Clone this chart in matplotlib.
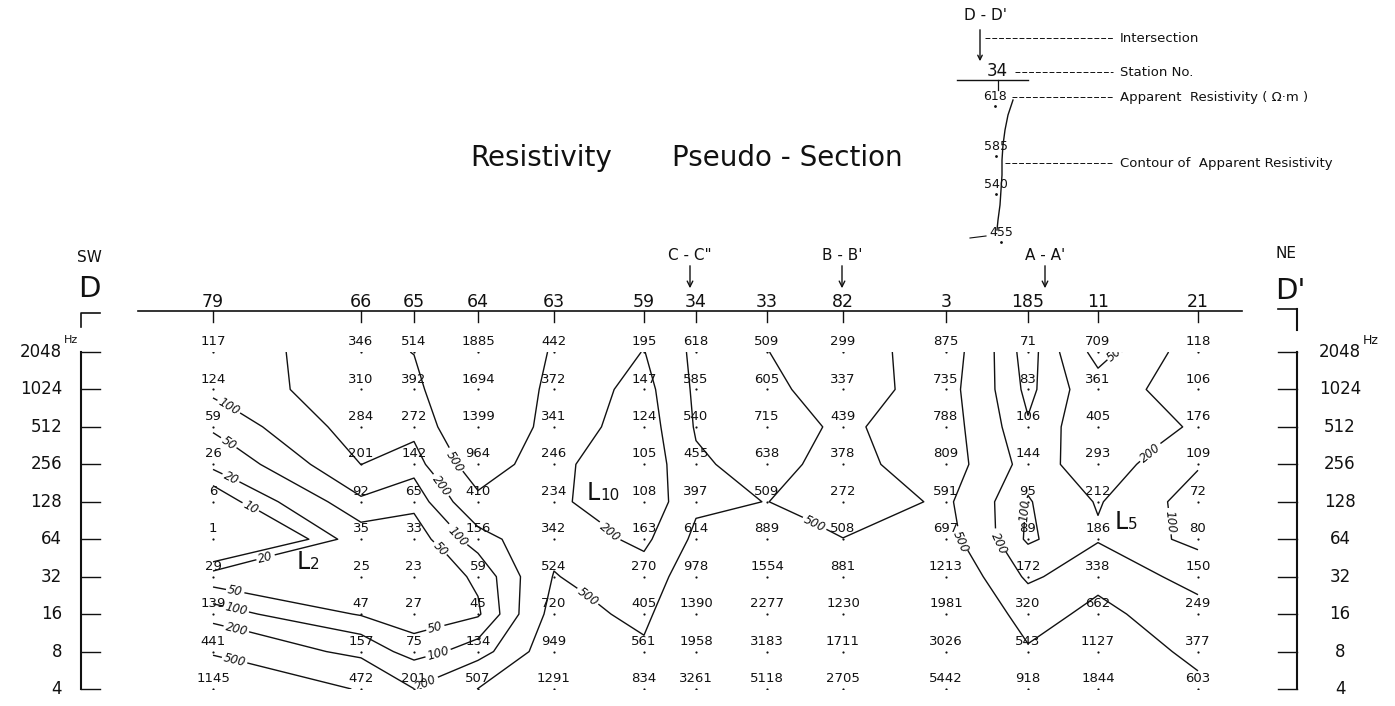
import numpy as np
import matplotlib
matplotlib.use('Agg')
import matplotlib.pyplot as plt
from matplotlib import transforms

# ---------------- data ----------------
stations = ['79', '66', '65', '64', '63', '59', '34', '33', '82', '3', '185', '11', '21']
station_dist = [21.3, 36.1, 41.4, 47.8, 55.4, 64.4, 69.6, 76.7, 84.3, 94.6, 102.8, 109.8, 119.8]
freqs = [2048, 1024, 512, 256, 128, 64, 32, 16, 8, 4]

rho_2048 = [117, 346, 514, 1885, 442, 195, 618, 509, 299, 875, 71, 709, 118]
rho_1024 = [124, 310, 392, 1694, 372, 147, 585, 605, 337, 735, 83, 361, 106]
rho_512 = [59, 284, 272, 1399, 341, 124, 540, 715, 439, 788, 106, 405, 176]
rho_256 = [26, 201, 142, 964, 246, 105, 455, 638, 378, 809, 144, 293, 109]
rho_128 = [6, 92, 65, 410, 234, 108, 397, 509, 272, 591, 95, 212, 72]
rho_64 = [1, 35, 33, 156, 342, 163, 614, 889, 508, 697, 89, 186, 80]
rho_32 = [29, 25, 23, 59, 524, 270, 978, 1554, 881, 1213, 172, 338, 150]
rho_16 = [139, 47, 27, 45, 720, 405, 1390, 2277, 1230, 1981, 320, 662, 249]
rho_8 = [441, 157, 75, 134, 949, 561, 1958, 3183, 1711, 3026, 543, 1127, 377]
rho_4 = [1145, 472, 201, 507, 1291, 834, 3261, 5118, 2705, 5442, 918, 1844, 603]

contour_levels = [10, 20, 50, 100, 200, 500]

intersection_names = ['C - C"', "B - B'", "A - A'"]
intersection_dist = [69.0, 84.2, 104.5]

anomaly_names = [('L', '2'), ('L', '10'), ('L', '5')]
anomaly_dist = [31.0, 60.0, 112.8]
anomaly_freq = [42, 150, 88]

legend_values = ['618', '585', '540', '455']

rho = np.array([rho_2048, rho_1024, rho_512, rho_256, rho_128,
                rho_64, rho_32, rho_16, rho_8, rho_4], dtype=float)

# ---------------- figure ----------------
W, H = 1395, 706
fig = plt.figure(figsize=(W / 100, H / 100), dpi=100)
fig.patch.set_facecolor('white')

ov = fig.add_axes([0, 0, 1, 1])
ov.set_xlim(0, W)
ov.set_ylim(H, 0)
ov.axis('off')

ax = fig.add_axes([0, 17 / H, 1, 337 / H])
ax.set_xlim(0, W / 10)
ax.set_yscale('log', base=2)
ax.set_ylim(4, 2048)
ax.axis('off')

bx = transforms.blended_transform_factory(ax.transData, ov.transData)
by = transforms.blended_transform_factory(ov.transData, ax.transData)

FONT = 'DejaVu Sans'
lc = '#111111'

# title
ov.text(612, 158, 'Resistivity', ha='right', va='center', fontsize=20, family=FONT, color=lc)
ov.text(672, 158, 'Pseudo - Section', ha='left', va='center', fontsize=20, family=FONT, color=lc)

# baseline & stations
ov.plot([138, 1242], [311, 311], color=lc, lw=1.2)
for name, d in zip(stations, station_dist):
    ax.plot([d, d], [311, 322], color=lc, lw=1.0, transform=bx, clip_on=False)
    ax.text(d, 302, name, ha='center', va='center', fontsize=12.5, family=FONT,
            color=lc, transform=bx, clip_on=False)

# intersections
for name, d in zip(intersection_names, intersection_dist):
    ax.text(d, 255, name, ha='center', va='center', fontsize=11, family=FONT,
            color=lc, transform=bx)
    ax.annotate('', xy=(d, 291), xytext=(d, 263), xycoords=bx, textcoords=bx,
                arrowprops=dict(arrowstyle='->', lw=1.0, color=lc, mutation_scale=10))

# SW / NE
ov.text(89, 258, 'SW', ha='center', va='center', fontsize=11, family=FONT, color=lc)
ov.text(89, 289, 'D', ha='center', va='center', fontsize=21, family=FONT, color=lc)
ov.text(1286, 254, 'NE', ha='center', va='center', fontsize=11, family=FONT, color=lc)
ov.text(1290, 291, "D'", ha='center', va='center', fontsize=21, family=FONT, color=lc)

# left frequency ruler
ov.plot([100, 81, 81], [313, 313, 327], color=lc, lw=1.2)
ax.plot([81, 81], [freqs[0], freqs[-1]], color=lc, lw=1.5, transform=by, clip_on=False)
for f in freqs:
    ax.plot([81, 100], [f, f], color=lc, lw=1.0, transform=by, clip_on=False)
    ax.text(62, f, str(f), ha='right', va='center', fontsize=12, family=FONT,
            color=lc, transform=by, clip_on=False)
ov.text(64, 340, 'Hz', ha='left', va='center', fontsize=8, family=FONT, color=lc)

# right frequency ruler
ov.plot([1278, 1297], [309, 309], color=lc, lw=1.2)
ov.plot([1297, 1297], [309, 330], color=lc, lw=1.5)
ax.plot([1297, 1297], [freqs[0], freqs[-1]], color=lc, lw=1.5, transform=by, clip_on=False)
for f in freqs:
    ax.plot([1278, 1297], [f, f], color=lc, lw=1.0, transform=by, clip_on=False)
    ax.text(1340, f, str(f), ha='center', va='center', fontsize=12, family=FONT,
            color=lc, transform=by, clip_on=False)
ov.text(1363, 340, 'Hz', ha='left', va='center', fontsize=9, family=FONT, color=lc)

# data values and dots
xx, ff = np.meshgrid(station_dist, freqs)
ax.scatter(xx.ravel(), ff.ravel(), s=2.5, c=lc, linewidths=0, zorder=3)
toff = transforms.offset_copy(ax.transData, fig=fig, x=0, y=7.5, units='points')
for i, f in enumerate(freqs):
    for j, d in enumerate(station_dist):
        ax.text(d, f, f'{int(rho[i, j])}', ha='center', va='center', fontsize=9.5,
                family=FONT, color=lc, transform=toff, clip_on=False, zorder=4)

# contours
cs = ax.contour(station_dist, freqs, np.log10(rho), levels=np.log10(contour_levels),
                colors=lc, linewidths=1.0)
label_spots = [
    (45.5, 267), (43.6, 160), (46.0, 70), (44.2, 55),
    (43.7, 11), (44.0, 6.8), (42.5, 4.6),
    (60.0, 58), (59.3, 25),
    (81.5, 86), (96.3, 63), (100.3, 63), (101.2, 110),
    (113.0, 1600), (113.7, 425), (118.5, 91),
    (23.5, 900), (23.5, 450), (23.5, 230), (24.5, 95),
    (27.0, 33), (23.5, 24), (23.5, 16), (23.5, 11), (23.5, 7),
]
labels = ax.clabel(cs, fmt=lambda v: f'{10 ** v:.0f}', fontsize=8.5, inline=True,
                   inline_spacing=2, manual=label_spots)
for t in labels:
    t.set_fontstyle('italic')

# anomaly labels
for (a, b), d, f in zip(anomaly_names, anomaly_dist, anomaly_freq):
    ax.text(d, f, a, ha='right', va='center', fontsize=17, family=FONT, color=lc)
    ax.annotate(b, xy=(d, f), xycoords='data', xytext=(0, -2), textcoords='offset points',
                ha='left', va='center', fontsize=11, family=FONT, color=lc)

# ---------------- legend (top right) ----------------
ov.text(986, 15, "D - D'", ha='center', va='center', fontsize=11, family=FONT, color=lc)
ov.annotate('', xy=(980, 64), xytext=(980, 27),
            arrowprops=dict(arrowstyle='->', lw=1.0, color=lc, mutation_scale=8))
ov.text(997, 71, '34', ha='center', va='center', fontsize=12, family=FONT, color=lc)
ov.plot([957, 1028], [80, 80], color=lc, lw=1.0)
ov.plot([998, 998], [80, 90], color=lc, lw=0.9)

leg_y = [97, 147, 185, 233]
leg_x = [995, 996, 996, 1001]
for v, x, y in zip(legend_values, leg_x, leg_y):
    ov.text(x, y, v, ha='center', va='center', fontsize=9, family=FONT, color=lc)
    ov.plot([x], [y + 9], marker='.', ms=2, color=lc)
ov.plot([970, 986], [238, 236], color=lc, lw=0.8)

# legend contour sample
cy = np.array([100, 115, 130, 145, 160, 175, 190, 205, 220, 230])
cxv = np.array([1013, 1008, 1005, 1003, 1002, 1002, 1001, 1000, 998, 997])
ov.plot(cxv, cy, color=lc, lw=1.0)

leader_style = dict(color=lc, lw=0.7, linestyle=(0, (5, 2)))
ov.plot([985, 1113], [38, 38], **leader_style)
ov.plot([1015, 1113], [72, 72], **leader_style)
ov.plot([1012, 1113], [97, 97], **leader_style)
ov.plot([1005, 1113], [163, 163], **leader_style)
ov.text(1120, 38, 'Intersection', ha='left', va='center', fontsize=9.5, family=FONT, color=lc)
ov.text(1120, 72, 'Station No.', ha='left', va='center', fontsize=9.5, family=FONT, color=lc)
ov.text(1120, 97, 'Apparent  Resistivity ( \u03a9\u00b7m )', ha='left', va='center',
        fontsize=9.5, family=FONT, color=lc)
ov.text(1120, 163, 'Contour of  Apparent Resistivity', ha='left', va='center',
        fontsize=9.5, family=FONT, color=lc)

fig.savefig('out.png', dpi=100, facecolor='white')
